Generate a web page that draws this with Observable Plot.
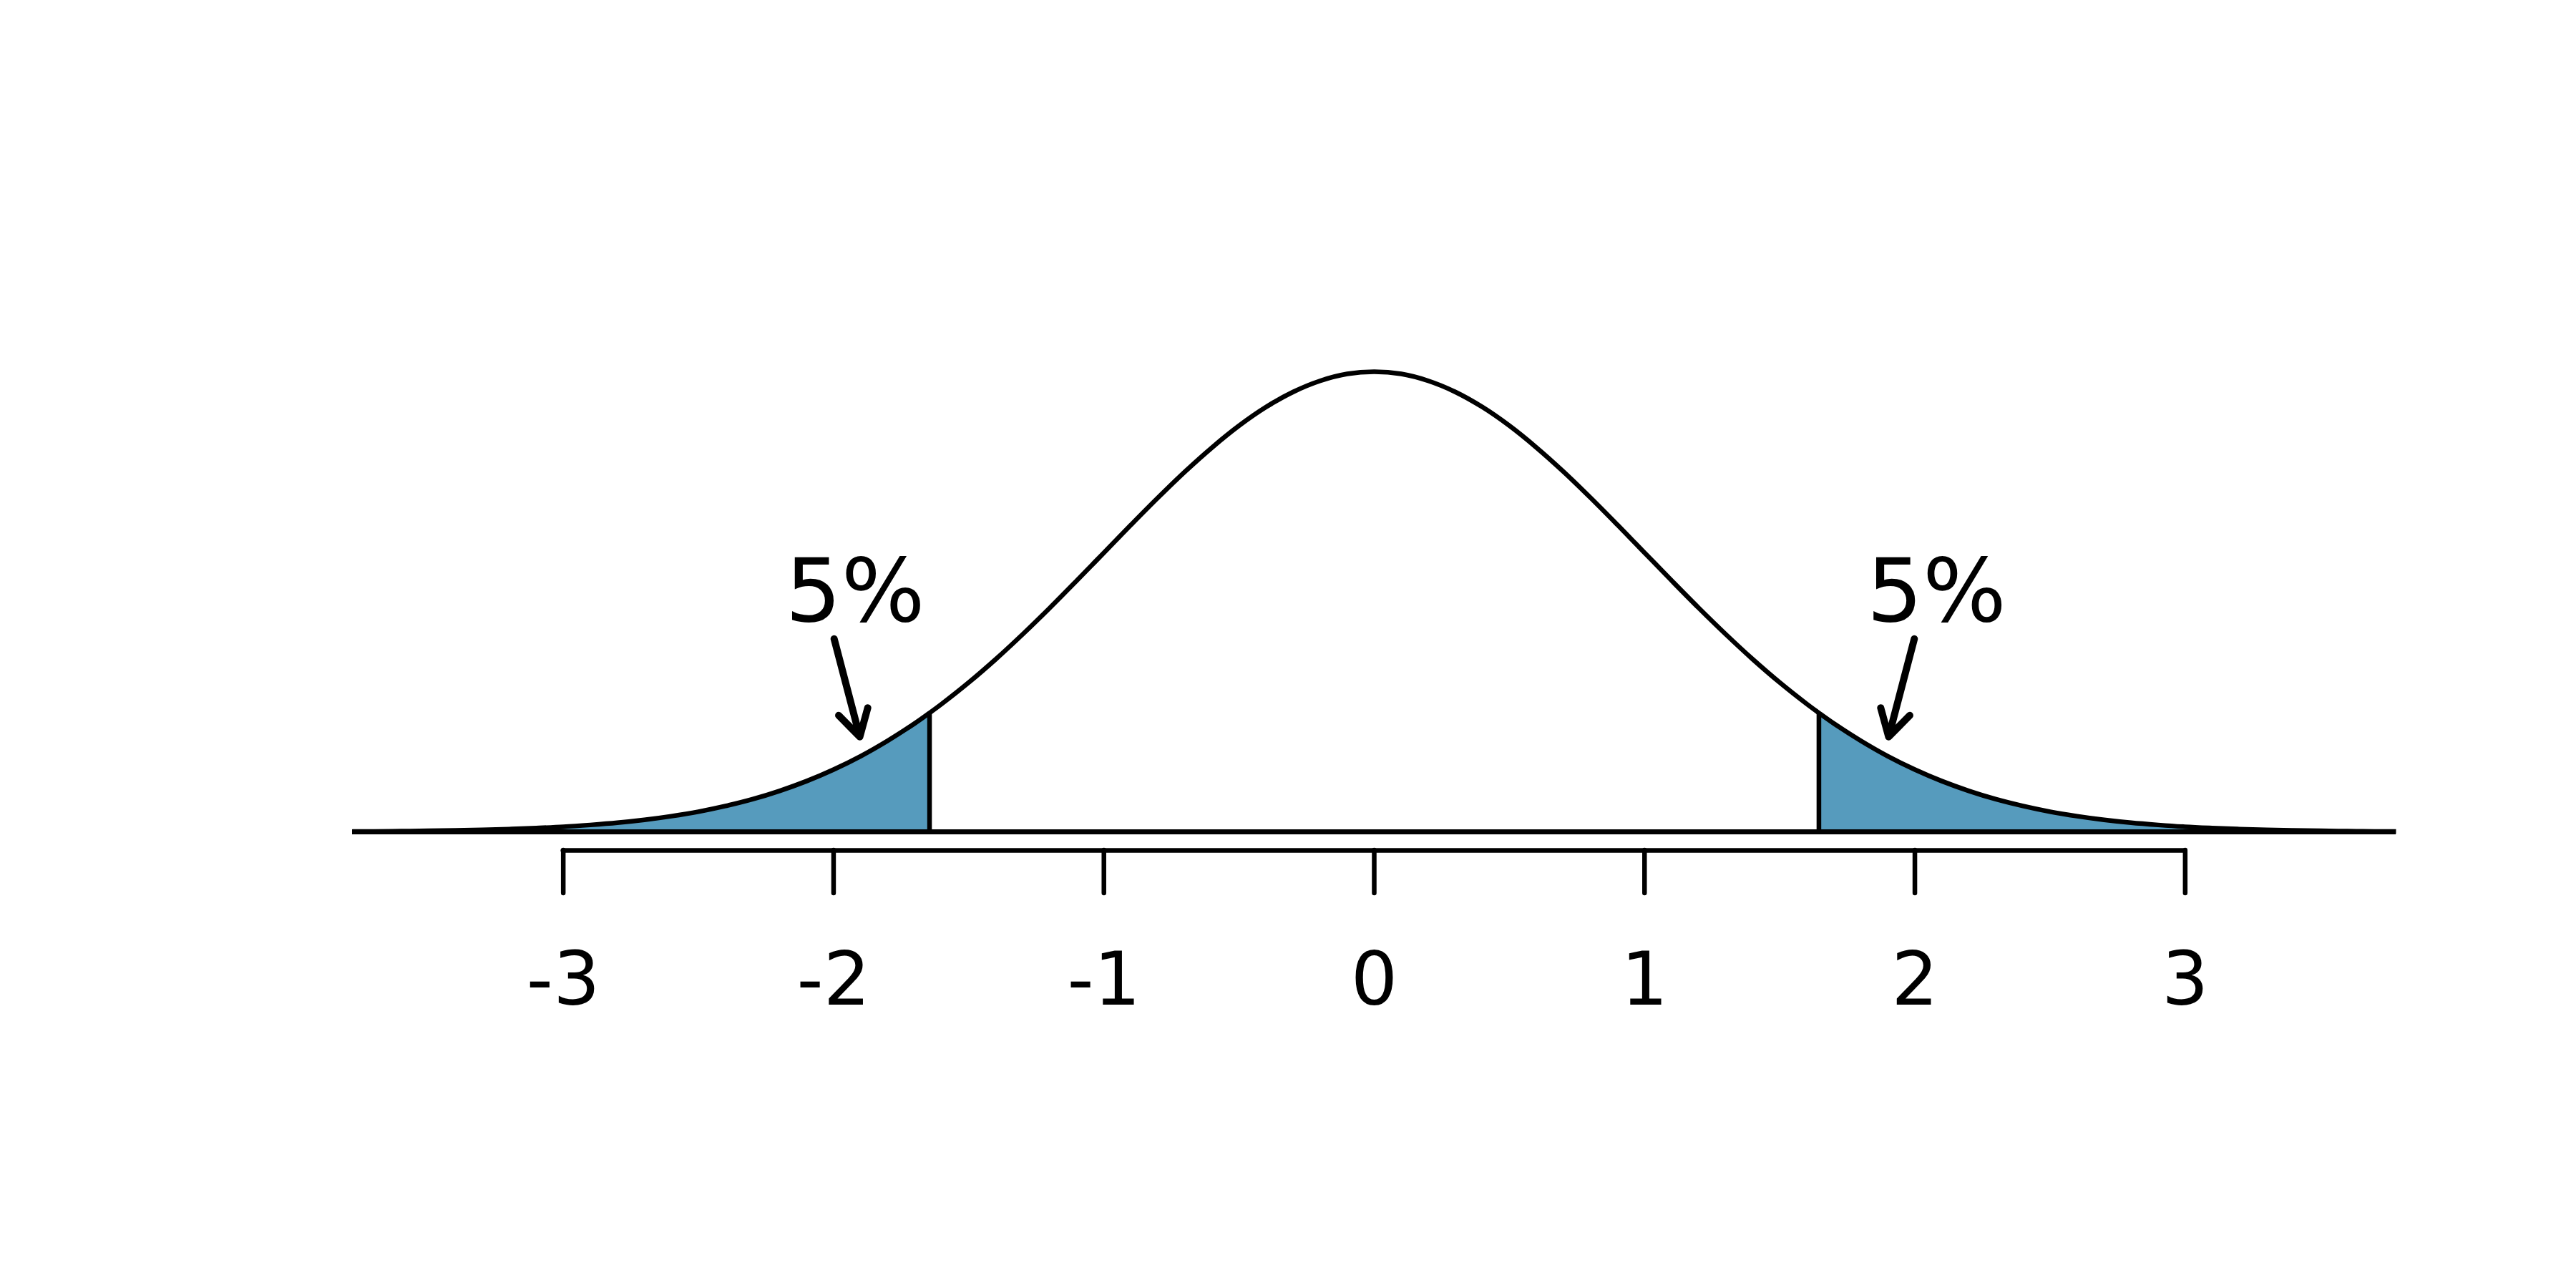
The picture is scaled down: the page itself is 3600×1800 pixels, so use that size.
<!DOCTYPE html>
<html>
<head>
<meta charset="utf-8">
<script src="https://cdn.jsdelivr.net/npm/d3@7"></script>
<script src="https://cdn.jsdelivr.net/npm/@observablehq/plot@0.6"></script>
<style>
  html, body { margin: 0; padding: 0; background: white; }
  #chart svg { display: block; }
</style>
</head>
<body>
<div id="chart"></div>
<script>
// Density curve (standard normal shape)
const curveX = [-3.78, -3.7, -3.6, -3.5, -3.4, -3.3, -3.2, -3.1, -3.0, -2.9, -2.8, -2.7, -2.6, -2.5, -2.4, -2.3, -2.2, -2.1,
                -2.0, -1.9, -1.8, -1.7, -1.645, -1.6, -1.5, -1.4, -1.3, -1.2, -1.1, -1.0, -0.9, -0.8, -0.7, -0.6, -0.5,
                -0.4, -0.3, -0.2, -0.1, 0,
                0.1, 0.2, 0.3, 0.4, 0.5, 0.6, 0.7, 0.8, 0.9, 1.0, 1.1, 1.2, 1.3, 1.4, 1.5, 1.6, 1.645, 1.7, 1.8, 1.9,
                2.0, 2.1, 2.2, 2.3, 2.4, 2.5, 2.6, 2.7, 2.8, 2.9, 3.0, 3.1, 3.2, 3.3, 3.4, 3.5, 3.6, 3.7, 3.78];
const curveY = [0.0003, 0.0004, 0.0006, 0.0009, 0.0012, 0.0017, 0.0024, 0.0033, 0.0044, 0.0060, 0.0079, 0.0104, 0.0136, 0.0175, 0.0224, 0.0283, 0.0355, 0.0440,
                0.0540, 0.0656, 0.0790, 0.0940, 0.1031, 0.1109, 0.1295, 0.1497, 0.1714, 0.1942, 0.2179, 0.2420, 0.2661, 0.2897, 0.3123, 0.3332, 0.3521,
                0.3683, 0.3814, 0.3910, 0.3970, 0.3989,
                0.3970, 0.3910, 0.3814, 0.3683, 0.3521, 0.3332, 0.3123, 0.2897, 0.2661, 0.2420, 0.2179, 0.1942, 0.1714, 0.1497, 0.1295, 0.1109, 0.1031, 0.0940, 0.0790, 0.0656,
                0.0540, 0.0440, 0.0355, 0.0283, 0.0224, 0.0175, 0.0136, 0.0104, 0.0079, 0.0060, 0.0044, 0.0033, 0.0024, 0.0017, 0.0012, 0.0009, 0.0006, 0.0004, 0.0003];

// Cutoffs of the two shaded 5% tails
const cutoffs = [-1.645, 1.645];
const cutoffHeights = [0.1031, 0.1031];

// Annotations
const labelTexts = ["5%", "5%"];
const labelX = [-1.92, 2.08];
const labelY = [0.1827, 0.1827];
const arrowX1 = [-1.998, 1.998];
const arrowY1 = [0.1673, 0.1673];
const arrowX2 = [-1.903, 1.903];
const arrowY2 = [0.0824, 0.0824];

// Axis ticks
const tickValues = [-3, -2, -1, 0, 1, 2, 3];
const tickLabels = ["-3", "-2", "-1", "0", "1", "2", "3"];
const bracketLevel = -0.0161;

const curve = curveX.map((x, i) => ({x, y: curveY[i]}));
const leftTail = curve.filter(d => d.x <= cutoffs[0]);
const rightTail = curve.filter(d => d.x >= cutoffs[1]);
const cutoffData = cutoffs.map((x, i) => ({x, h: cutoffHeights[i]}));
const labels = labelTexts.map((t, i) => ({t, x: labelX[i], y: labelY[i]}));
const arrows = arrowX1.map((x1, i) => ({x1, y1: arrowY1[i], x2: arrowX2[i], y2: arrowY2[i]}));

const fillColor = "#569BBD";

const chart = Plot.plot({
  width: 3600,
  height: 1800,
  marginLeft: 492,
  marginRight: 252,
  marginTop: 519,
  marginBottom: 612,
  style: {fontFamily: "DejaVu Sans", background: "white", color: "black"},
  x: {domain: [curveX[0], curveX[curveX.length - 1]], label: null},
  y: {domain: [bracketLevel, 0.3989], axis: null, label: null},
  marks: [
    Plot.areaY(leftTail, {x: "x", y: "y", fill: fillColor, curve: "catmull-rom"}),
    Plot.areaY(rightTail, {x: "x", y: "y", fill: fillColor, curve: "catmull-rom"}),
    Plot.ruleY([0], {stroke: "black", strokeWidth: 7}),
    Plot.ruleX(cutoffData, {x: "x", y1: 0, y2: "h", stroke: "black", strokeWidth: 6.5}),
    Plot.line(curve, {x: "x", y: "y", stroke: "black", strokeWidth: 6.5, curve: "catmull-rom", strokeLinecap: "butt"}),
    Plot.ruleY([bracketLevel], {x1: tickValues[0], x2: tickValues[tickValues.length - 1], stroke: "black", strokeWidth: 6.5, strokeLinecap: "round"}),
    Plot.axisX(tickValues, {
      tickSize: 60,
      tickPadding: 82,
      fontSize: 103,
      strokeWidth: 6.5,
      strokeLinecap: "round",
      tickFormat: d => tickLabels[tickValues.indexOf(d)],
      label: null
    }),
    Plot.arrow(arrows, {
      x1: "x1", y1: "y1", x2: "x2", y2: "y2",
      stroke: "black", strokeWidth: 10, headLength: 6.3, headAngle: 60,
      strokeLinecap: "round", strokeLinejoin: "round"
    }),
    Plot.text(labels, {x: "x", y: "y", text: "t", fontSize: 123, lineAnchor: "bottom", textAnchor: "middle", fill: "black"})
  ]
});
document.getElementById("chart").appendChild(chart);
</script>
</body>
</html>
